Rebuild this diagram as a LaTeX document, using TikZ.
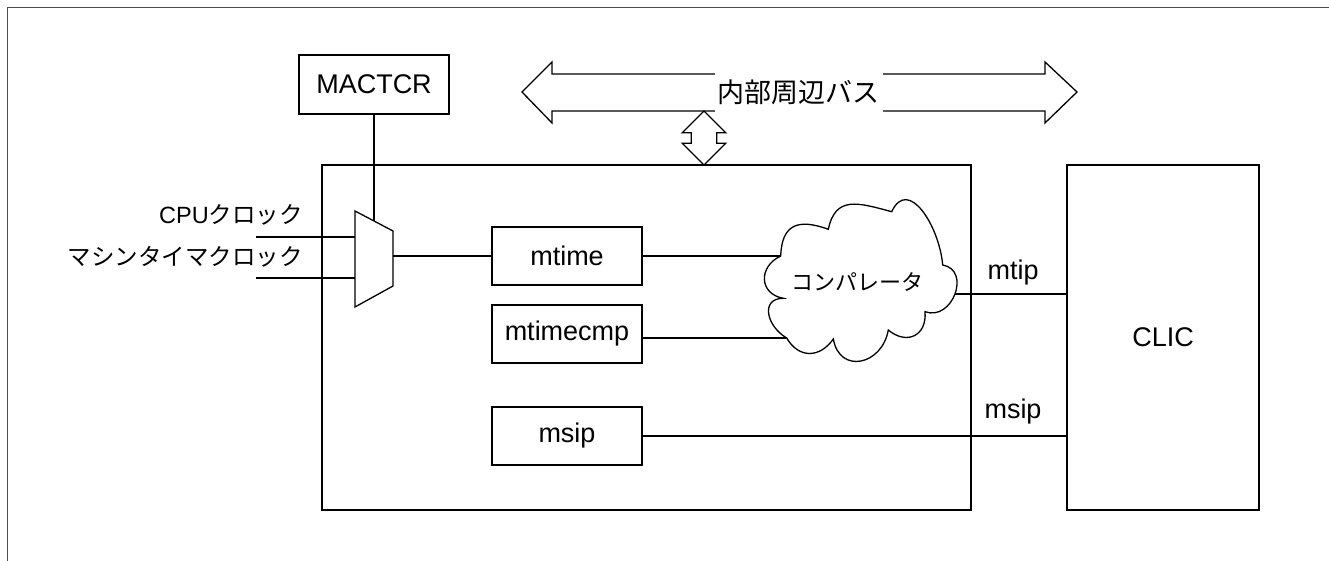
\documentclass[tikz,border=0pt]{standalone}
\usepackage{fontspec}
\setmainfont{Liberation Sans}
\newfontfamily\jp{Noto Sans CJK JP}
\tikzset{
  box/.style={draw, line width=1.3pt, inner sep=0pt, font=\fontsize{27}{30}\selectfont},
  bigbox/.style={box, line width=1.7pt},
  regbox/.style={box, minimum width=150, minimum height=58},
  wire/.style={line width=1.1pt},
  outline/.style={line width=1.3pt, line join=miter},
  lbl/.style={inner sep=0pt, font=\fontsize{27}{30}\selectfont},
  jplbl/.style={inner sep=0pt, font=\jp\fontsize{23.5}{26}\selectfont},
}
\begin{document}
\begin{tikzpicture}[x=1pt,y=1pt]
\useasboundingbox (0,0) rectangle (1329,561);

% page frame
\draw[black!70, line width=1pt] (7,0) -- (7,553) -- (1329,553);

% blocks
\node[box, minimum width=150, minimum height=59] (mactcr) at (374,476.5) {MACTCR};
\node[bigbox, minimum width=649, minimum height=345] (unit) at (646.5,223.5) {};
\node[bigbox, minimum width=192, minimum height=345] (clic) at (1163,223.5) {CLIC};
\node[regbox] (mtime) at (567,305) {mtime};
\node[regbox] (mtimecmp) at (567,227) {mtimecmp};
\node[regbox] (msip) at (567,125) {msip};

% clock selector
\coordinate (muxA) at (355,350);
\coordinate (muxB) at (393,330);
\coordinate (muxC) at (393,275);
\coordinate (muxD) at (355,254);
\draw[outline] (muxA) -- (muxB) -- (muxC) -- (muxD) -- cycle;
\coordinate (muxsel) at (374,340);
\coordinate (muxout) at (393,305);
\coordinate (clk1) at (256,324);
\coordinate (clk2) at (256,283);

\node[jplbl, anchor=east] (lclk1) at (303,346) {{\fontspec{Liberation Sans}CPU}クロック};
\node[jplbl, anchor=east] (lclk2) at (303,304) {マシンタイマクロック};

\draw[wire] (clk1) -- (clk1 -| muxA);
\draw[wire] (clk2) -- (clk2 -| muxA);
\draw[wire] (mactcr.south) -- (muxsel);
\draw[wire] (muxout) -- (mtime.west);

% internal peripheral bus
\draw[outline] (522,469) -- (552,499) -- (552,487) -- (1045,487) -- (1045,499)
  -- (1077,469) -- (1045,438) -- (1045,450) -- (552,450) -- (552,438) -- cycle;
\node[fill=white, inner sep=0pt, minimum width=168, minimum height=42,
      font=\jp\fontsize{27}{30}\selectfont] (bus) at (798.5,469) {内部周辺バス};

% bus access arrow
\draw[outline] (704,450) -- (725.7,428.3) -- (716.8,428.3) -- (716.8,417.7)
  -- (725.7,417.7) -- (704,396) -- (682.3,417.7) -- (691.2,417.7)
  -- (691.2,428.3) -- (682.3,428.3) -- cycle;

% comparator cloud outline points
\coordinate (cA) at (780.7,305);
\coordinate (cB) at (828.3,331.7);
\coordinate (cC) at (891.7,349.3);
\coordinate (cD) at (942.7,296);
\coordinate (cE) at (925,249.3);
\coordinate (cF) at (888.3,231);
\coordinate (cG) at (833.3,222);
\coordinate (cH) at (786.7,223);
\coordinate (cI) at (783.3,262.7);
\coordinate (tipstart) at (925,267);

% signal lines
\draw[wire] (mtime.east) -- (cA);
\draw[wire] (mtimecmp.east |- cH) -- (cH);
\draw[wire] (tipstart) -- (tipstart -| clic.west);
\draw[wire] (msip.east) -- (msip.east -| clic.west);

% comparator
\draw[outline, fill=white]
  (cA) to[out=88,in=160,looseness=1.5] (cB)
       to[out=78,in=165,looseness=1.35] (cC)
       to[out=65,in=95,looseness=1.35] (cD)
       to[out=-10,in=-20,looseness=1.5] (cE)
       to[out=-85,in=-40,looseness=1.5] (cF)
       to[out=-100,in=-80,looseness=1.65] (cG)
       to[out=-125,in=-60,looseness=1.3] (cH)
       to[out=150,in=180,looseness=1.5] (cI)
       to[out=170,in=205,looseness=1.5] (cA) -- cycle;
\node[inner sep=0pt, font=\jp\fontsize{22}{24}\selectfont] (cmp) at (857,279) {コンパレータ};

% signal names
\node[lbl, anchor=base] (ltip) at (1013,281) {mtip};
\node[lbl, anchor=base] (lsip) at (1013,142) {msip};
\end{tikzpicture}
\end{document}
